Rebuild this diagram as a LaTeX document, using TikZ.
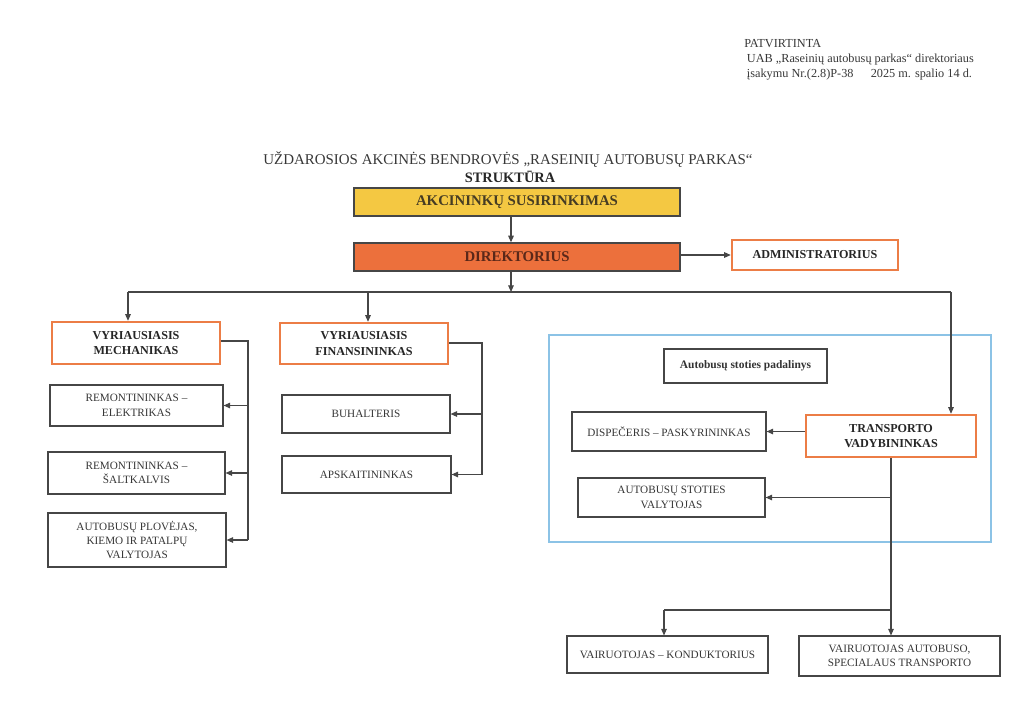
\documentclass[tikz,border=0pt]{standalone}
\usepackage{fontspec}
\setmainfont{Liberation Serif}
\usetikzlibrary{arrows.meta,calc}
\definecolor{linec}{RGB}{70,70,70}
\definecolor{txtc}{RGB}{55,55,55}
\definecolor{orb}{RGB}{236,125,70}
\definecolor{yel}{RGB}{244,200,66}
\definecolor{ora}{RGB}{236,112,60}
\definecolor{blu}{RGB}{140,195,230}
\definecolor{dirtxt}{RGB}{90,40,25}
\definecolor{akctxt}{RGB}{70,60,35}
\tikzset{
  box/.style={draw=linec, line width=0.8pt, fill=white, align=center, text=txtc,
    font=\fontsize{8.4}{10.8}\selectfont, inner sep=1pt},
  obox/.style={draw=orb, line width=1.8pt, fill=white, align=center, text=black!85,
    font=\fontsize{9.1}{11.8}\selectfont\bfseries, inner sep=1pt},
  arr/.style={draw=linec, line width=0.8pt, -{Triangle[length=5pt,width=4.2pt]}},
  ln/.style={draw=linec, line width=0.8pt},
  wh/.style 2 args={minimum width=#1*0.75pt, minimum height=#2*0.75pt},
}
\begin{document}
\begin{tikzpicture}[x=0.75pt,y=-0.75pt]
\useasboundingbox (0,0) rectangle (1024,704);
% header
\node (hdr) [anchor=north west, align=left, inner sep=0pt, text=txtc,
  font=\fontsize{9.2}{11.2}\selectfont] at (744,39.5)
  {PATVIRTINTA\\
   \hspace*{2pt}UAB „Raseinių autobusų parkas“ direktoriaus\\
   \hspace*{2pt}įsakymu Nr.(2.8)P-38\hspace{1.4em}2025 m. spalio 14 d.};
% title
\node (title) [text=txtc, font=\fontsize{11.2}{13}\selectfont, inner sep=0pt] at (508,160)
  {UŽDAROSIOS AKCINĖS BENDROVĖS „RASEINIŲ AUTOBUSŲ PARKAS“};
\node (struk) [text=black!85, font=\fontsize{10.8}{12}\selectfont\bfseries, inner sep=0pt] at (510,177) {STRUKTŪRA};
% blue area
\draw[draw=blu, line width=1pt] (549,335) rectangle (991,542);
% top boxes
\node (akc) [draw=linec, line width=1pt, fill=yel, wh={326}{28}, text=akctxt,
  font=\fontsize{11.1}{13}\selectfont\bfseries] at (517,202) {AKCININKŲ SUSIRINKIMAS};
\node (dir) [draw=linec, line width=1pt, fill=ora, wh={326}{28}, text=dirtxt,
  font=\fontsize{11.1}{13}\selectfont\bfseries] at (517,257) {DIREKTORIUS};
\node (adm) [obox, wh={166}{30}] at (815,255) {ADMINISTRATORIUS};
% level 2
\node (vm) [obox, wh={168}{42}] at (136,343) {VYRIAUSIASIS\\MECHANIKAS};
\node (vf) [obox, wh={168}{41}] at (364,343.5) {VYRIAUSIASIS\\FINANSININKAS};
\node (tv) [obox, wh={170}{42}] at (891,436) {TRANSPORTO\\VADYBININKAS};
% mechanic's staff
\node (re) [box, wh={173}{41}] at (136.5,405.5) {REMONTININKAS –\\ELEKTRIKAS};
\node (rs) [box, wh={177}{42}] at (136.5,473) {REMONTININKAS –\\ŠALTKALVIS};
\node (ap) [box, wh={178}{54}] at (137,540) {AUTOBUSŲ PLOVĖJAS,\\KIEMO IR PATALPŲ\\VALYTOJAS};
% finance staff
\node (bu) [box, wh={168}{38}] at (366,414) {BUHALTERIS};
\node (as) [box, wh={169}{37}] at (366.5,474.5) {APSKAITININKAS};
% bus station
\node (asp) [box, wh={163}{34}, font=\fontsize{8.6}{10}\selectfont\bfseries, text=black!80] at (745.5,366) {Autobusų stoties padalinys};
\node (dp) [box, wh={194}{39}] at (669,431.5) {DISPEČERIS – PASKYRININKAS};
\node (sv) [box, wh={187}{39}] at (671.5,497.5) {AUTOBUSŲ STOTIES\\VALYTOJAS};
% drivers
\node (vk) [box, wh={201}{37}] at (667.5,654.5) {VAIRUOTOJAS – KONDUKTORIUS};
\node (vs) [box, wh={201}{40}] at (899.5,656) {VAIRUOTOJAS AUTOBUSO,\\SPECIALAUS TRANSPORTO};
% connectors top
\coordinate (cx) at (511,0);
\draw[arr] (akc.south -| cx) -- (dir.north -| cx);
\draw[arr] (dir.east |- adm.west) -- (adm.west);
\coordinate (bus) at (511,292);
\draw[arr] (dir.south -| bus) -- (bus);
\coordinate (busL) at (128,292);
\coordinate (busF) at (368,292);
\coordinate (busR) at (951,292);
\draw[ln] (busL) -- (busR);
\draw[arr] (busL) -- (busL |- vm.north);
\draw[arr] (busF) -- (busF |- vf.north);
\draw[arr] (busR) -- (busR |- tv.north);
% mechanic bracket
\coordinate (mb) at (248,341);
\draw[ln] (vm.east |- mb) -- (mb) -- (mb |- ap.east);
\draw[arr] (mb |- re.east) -- (re.east);
\draw[arr] (mb |- rs.east) -- (rs.east);
\draw[arr] (mb |- ap.east) -- (ap.east);
% finance bracket
\coordinate (fb) at (482,343);
\draw[ln] (vf.east |- fb) -- (fb) -- (fb |- as.east);
\draw[arr] (fb |- bu.east) -- (bu.east);
\draw[arr] (fb |- as.east) -- (as.east);
% transport
\draw[arr] (tv.west |- dp.east) -- (dp.east);
\coordinate (tb) at (891,610);
\draw[ln] (tv.south -| tb) -- (tb);
\draw[arr] (tb |- sv.east) -- (sv.east);
\coordinate (tl) at (664,610);
\draw[ln] (tl) -- (tb);
\draw[arr] (tl) -- (tl |- vk.north);
\draw[arr] (tb) -- (tb |- vs.north);
\end{tikzpicture}
\end{document}
